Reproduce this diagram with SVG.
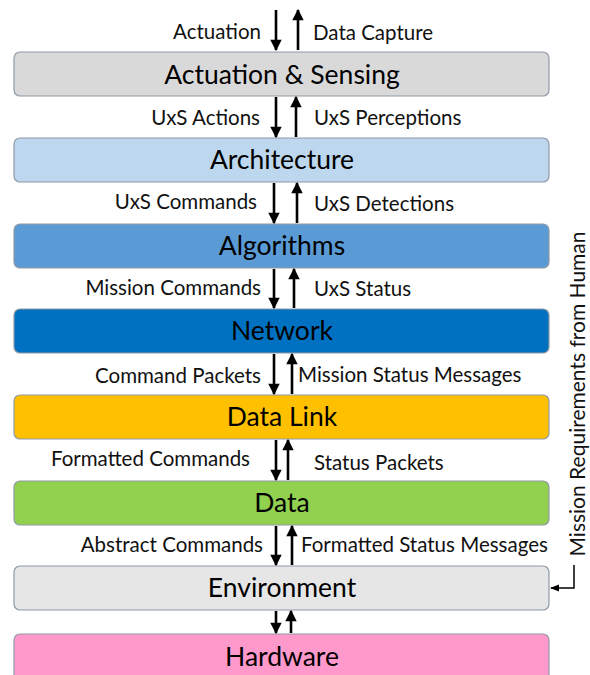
<svg xmlns="http://www.w3.org/2000/svg" width="590" height="675" viewBox="0 0 590 675">
  <style>
    .layer { stroke: #8f9aa6; stroke-width: 1.2; }
    .title { font-family: Lato, "Open Sans", sans-serif; font-size: 26.5px; fill: #000; text-anchor: middle; }
    .lbl { font-family: Lato, "Open Sans", sans-serif; font-size: 20.5px; fill: #111; }
    .lbl.r { text-anchor: end; }
    .side { font-family: Lato, "Open Sans", sans-serif; font-size: 21px; fill: #111; text-anchor: middle; }
    .flow { stroke: #000; stroke-width: 2.6; fill: none; marker-end: url(#head); }
    .link { stroke: #000; stroke-width: 1.5; fill: none; marker-end: url(#headSmall); }
  </style>
  <defs>
    <marker id="head" viewBox="0 0 10 10" refX="9" refY="5" markerWidth="4.6" markerHeight="4.4" markerUnits="strokeWidth" orient="auto">
      <path d="M0,0 L10,5 L0,10 Z" fill="#000"/>
    </marker>
    <marker id="headSmall" viewBox="0 0 10 10" refX="9" refY="5" markerWidth="6" markerHeight="6" markerUnits="strokeWidth" orient="auto">
      <path d="M0,1 L10,5 L0,9 Z" fill="#000"/>
    </marker>
  </defs>

  <rect width="590" height="675" fill="#fff"/>

  <!-- Layer boxes -->
  <g id="actuation-sensing">
    <rect class="layer" x="14" y="52" width="535" height="44" rx="6" fill="#d9d9d9"/>
    <text class="title" x="282" y="84">Actuation &amp; Sensing</text>
  </g>
  <g id="architecture">
    <rect class="layer" x="14" y="138" width="535" height="44" rx="6" fill="#bdd7ee"/>
    <text class="title" x="282" y="169">Architecture</text>
  </g>
  <g id="algorithms">
    <rect class="layer" x="14" y="224" width="535" height="44" rx="6" fill="#5b9bd5"/>
    <text class="title" x="282" y="255">Algorithms</text>
  </g>
  <g id="network">
    <rect class="layer" x="14" y="309" width="535" height="44" rx="6" fill="#0070c0"/>
    <text class="title" x="282" y="340">Network</text>
  </g>
  <g id="data-link">
    <rect class="layer" x="14" y="395" width="535" height="44" rx="6" fill="#ffc000"/>
    <text class="title" x="282" y="426">Data Link</text>
  </g>
  <g id="data">
    <rect class="layer" x="14" y="481" width="535" height="44" rx="6" fill="#92d050"/>
    <text class="title" x="282" y="512">Data</text>
  </g>
  <g id="environment">
    <rect class="layer" x="14" y="566" width="535" height="44" rx="6" fill="#e6e6e6"/>
    <text class="title" x="282" y="597">Environment</text>
  </g>
  <g id="hardware">
    <rect class="layer" x="14" y="634" width="535" height="50" rx="6" fill="#ff99cc"/>
    <text class="title" x="282" y="666">Hardware</text>
  </g>

  <!-- Connectors between layers -->
  <g id="connectors">
    <line class="flow" x1="276" y1="10" x2="276" y2="50"/>
    <line class="flow" x1="298" y1="50" x2="298" y2="10"/>

    <line class="flow" x1="276" y1="97" x2="276" y2="137"/>
    <line class="flow" x1="296" y1="137" x2="296" y2="97"/>

    <line class="flow" x1="274" y1="183" x2="274" y2="223"/>
    <line class="flow" x1="297" y1="223" x2="297" y2="183"/>

    <line class="flow" x1="274" y1="269" x2="274" y2="308"/>
    <line class="flow" x1="294" y1="308" x2="294" y2="269"/>

    <line class="flow" x1="274" y1="354" x2="274" y2="394"/>
    <line class="flow" x1="292" y1="394" x2="292" y2="354"/>

    <line class="flow" x1="276" y1="440" x2="276" y2="480"/>
    <line class="flow" x1="288" y1="480" x2="288" y2="440"/>

    <line class="flow" x1="276" y1="526" x2="276" y2="565"/>
    <line class="flow" x1="292" y1="565" x2="292" y2="526"/>

    <line class="flow" x1="276" y1="611" x2="276" y2="633"/>
    <line class="flow" x1="291" y1="633" x2="291" y2="611"/>

    <polyline class="link" points="574,565 574,588 551,588"/>
  </g>

  <!-- Flow labels -->
  <g id="labels">
    <text class="lbl r" x="261" y="39">Actuation</text>
    <text class="lbl" x="313" y="40">Data Capture</text>
    <text class="lbl r" x="260" y="125">UxS Actions</text>
    <text class="lbl" x="314" y="125">UxS Perceptions</text>
    <text class="lbl r" x="257" y="209">UxS Commands</text>
    <text class="lbl" x="314" y="211">UxS Detections</text>
    <text class="lbl r" x="261" y="295">Mission Commands</text>
    <text class="lbl" x="314" y="296">UxS Status</text>
    <text class="lbl r" x="261" y="383">Command Packets</text>
    <text class="lbl" x="298" y="382">Mission Status Messages</text>
    <text class="lbl r" x="250" y="466">Formatted Commands</text>
    <text class="lbl" x="314" y="470">Status Packets</text>
    <text class="lbl r" x="263" y="552">Abstract Commands</text>
    <text class="lbl" x="301" y="552">Formatted Status Messages</text>
    <text class="side" transform="translate(585,394) rotate(-90)">Mission Requirements from Human</text>
  </g>
</svg>
